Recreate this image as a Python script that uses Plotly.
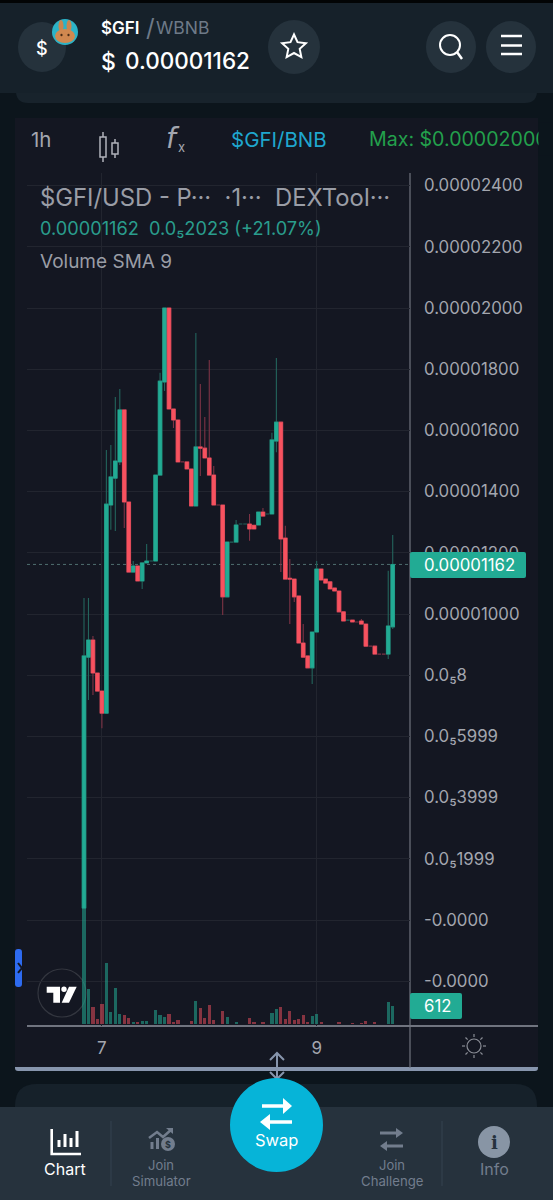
import math
import plotly.graph_objects as go

# ---------- data (prices in units of 1e-6 USD) ----------
bar_index = list(range(70))
open_ = [0.39,8.59,9.15,8.07,7.48,6.76,13.56,14.44,14.97,16.67,13.66,11.37,11.57,11.08,11.67,11.73,11.73,14.54,17.58,20.0,16.70,16.34,14.97,14.97,14.74,13.53,15.46,15.42,15.10,14.54,13.56,13.56,10.56,12.35,12.35,12.94,12.94,12.94,12.90,12.91,13.33,13.27,13.27,15.65,16.27,12.48,11.17,11.14,10.59,9.05,8.63,8.24,9.41,11.47,11.14,11.05,10.85,10.75,10.07,9.80,9.80,9.74,9.77,9.67,8.95,8.95,8.69,8.69,8.69,9.58]
close = [8.63,9.15,8.07,7.48,6.76,13.59,14.48,15.00,16.67,13.66,11.37,11.57,11.08,11.67,11.73,11.73,14.54,17.61,20.0,16.70,16.34,14.97,14.97,14.74,13.53,15.46,15.42,15.10,14.54,13.56,13.56,10.56,12.35,12.35,12.91,12.94,12.94,12.78,12.78,13.33,13.20,13.27,15.69,16.27,12.45,11.14,11.14,10.56,9.05,8.59,8.24,9.41,11.47,11.11,11.01,10.82,10.75,10.07,9.77,9.80,9.74,9.74,9.67,8.95,8.95,8.69,8.69,8.69,9.61,11.62]
high = [10.52,10.52,9.28,8.07,7.48,15.36,15.52,17.09,17.35,16.67,13.66,11.73,11.57,11.67,12.29,11.73,14.54,17.88,20.0,20.0,16.70,16.34,14.97,14.97,14.74,19.18,17.52,16.44,18.30,14.84,13.56,13.56,12.35,12.35,13.07,12.94,12.94,13.27,12.90,13.33,13.46,13.27,15.92,18.37,16.27,12.88,11.80,11.14,10.59,9.67,8.63,9.41,11.73,11.47,11.14,11.05,10.85,10.75,10.07,9.80,9.80,9.74,9.84,9.67,8.95,8.95,8.69,8.69,11.41,12.58]
low = [0.39,7.19,7.35,7.48,6.27,6.76,12.75,12.71,14.87,12.81,11.37,11.37,11.08,10.82,11.67,11.73,11.73,14.54,17.29,16.70,16.08,14.97,14.97,14.74,13.53,13.53,14.51,15.10,14.54,13.56,13.56,9.97,10.56,12.35,12.35,12.94,12.94,12.39,12.78,12.91,13.20,13.27,13.27,15.29,11.37,11.14,9.67,10.39,9.05,8.59,8.24,7.71,9.41,11.11,11.01,10.82,10.75,10.07,9.77,9.80,9.74,9.74,9.67,8.95,8.95,8.69,8.69,8.69,8.53,9.51]
volume = [3830,1155,583,176,671,2013,418,1188,341,308,209,77,66,110,110,22,462,308,231,341,66,132,11,11,110,770,539,209,649,132,11,440,231,11,66,11,11,220,77,11,66,11,363,506,572,187,440,132,187,297,88,286,341,66,22,11,11,88,22,11,33,11,33,121,11,66,22,11,737,612]

price_ticks = [24,22,20,18,16,14,12,10,8,6,4,2,0,-2]
price_labels = ["0.00002400","0.00002200","0.00002000","0.00001800","0.00001600","0.00001400","0.00001200","0.00001000","0.0₅8","0.0₅5999","0.0₅3999","0.0₅1999","-0.0000","-0.0000"]
date_ticks = [4, 52]
date_labels = ["7", "9"]
last_price = 11.62

# ---------- style ----------
W, H = 553, 1200
PAGE = "#0c151c"; PANEL = "#141722"; CARD = "#16212a"; NAV = "#26323d"; CHIP = "#25323c"
UP = "#22ab94"; DOWN = "#f7525f"; UP_DIM = "#23645c"; DOWN_DIM = "#7d3345"
GRID = "#22252f"; LINE = "#70747f"; TXT = "#a3a6af"; NAVTXT = "#727d8d"
FONT = "Inter"

def px(x): return x / W
def py(y): return 1 - y / H
def pt(x, y): return f"{px(x):.5f} {py(y):.5f}"

shapes, annos = [], []
def rect(x0, y0, x1, y1, color, layer="below"):
    shapes.append(dict(type="rect", xref="paper", yref="paper", x0=px(x0), x1=px(x1), y0=py(y0), y1=py(y1),
                       fillcolor=color, line=dict(width=0), layer=layer))
def rrect(x0, y0, x1, y1, r, color, layer="below"):
    d = (f"M {pt(x0+r,y0)} L {pt(x1-r,y0)} Q {pt(x1,y0)} {pt(x1,y0+r)} L {pt(x1,y1-r)} Q {pt(x1,y1)} {pt(x1-r,y1)} "
         f"L {pt(x0+r,y1)} Q {pt(x0,y1)} {pt(x0,y1-r)} L {pt(x0,y0+r)} Q {pt(x0,y0)} {pt(x0+r,y0)} Z")
    shapes.append(dict(type="path", xref="paper", yref="paper", path=d, fillcolor=color, line=dict(width=0), layer=layer))
def ell(cx, cy, rx, ry, fill=None, stroke=None, w=0, layer="below"):
    shapes.append(dict(type="circle", xref="paper", yref="paper", x0=px(cx-rx), x1=px(cx+rx), y0=py(cy+ry), y1=py(cy-ry),
                       fillcolor=fill or "rgba(0,0,0,0)", line=dict(width=w, color=stroke or "rgba(0,0,0,0)"), layer=layer))
def poly(pts, fill=None, stroke=None, w=0, closed=True, layer="below"):
    d = "M " + " L ".join(pt(*p) for p in pts) + (" Z" if closed else "")
    shapes.append(dict(type="path", xref="paper", yref="paper", path=d, fillcolor=fill or "rgba(0,0,0,0)",
                       line=dict(width=w, color=stroke or "rgba(0,0,0,0)"), layer=layer))
def seg(x0, y0, x1, y1, color, w=1, layer="below"):
    poly([(x0, y0), (x1, y1)], stroke=color, w=w, closed=False, layer=layer)
def T(x, y, text, size, color, anchor="left", font=FONT, weight=None):
    f = dict(family=font, size=size, color=color)
    if weight: f["weight"] = weight
    annos.append(dict(xref="paper", yref="paper", x=px(x), y=py(y), text=text, showarrow=False, xanchor=anchor,
                      yanchor="middle", borderpad=0, borderwidth=0, font=f))

# ---------- page chrome ----------
rect(0, 0, W, 3, "#020405")
rrect(16, 70, 537, 103, 12, "#18232c")
rect(0, 3, W, 93, CARD)
rect(15, 118, 538, 1070, PANEL)
rrect(15, 1060, 538, 1071, 3, "#8795ad")
rect(15, 1060, 538, 1067, PANEL)
rrect(15, 1084, 537, 1140, 22, CARD)
rect(0, 1107, W, H, NAV)

# header
ell(42, 47, 24, 25, CHIP)
T(42, 48, "$", 18, "#ffffff", "center", weight=500)
ell(65, 32, 13, 13, "#2cb3c7")
ell(61, 26, 2.5, 6, "#c9854e"); ell(69, 26, 2.5, 6, "#c9854e")
ell(65, 36, 10, 7, "#d1884f")
ell(61.5, 35, 1.1, 1.3, "#4a2c16"); ell(68.5, 35, 1.1, 1.3, "#4a2c16")
T(101, 28, "$GFI", 17, "#ffffff", weight=600)
T(146, 28, "/", 24, "#6e7a88")
T(156, 28, "WBNB", 17.5, "#6e7a88")
T(101, 62, "$", 23, "#ffffff", weight=500)
T(125, 61, "0.00001162", 22.5, "#ffffff", weight=500)
ell(294, 47, 26, 27, CHIP)
star = []
for k in range(10):
    r_ = 12.5 if k % 2 == 0 else 6
    a = -math.pi / 2 + k * math.pi / 5
    star.append((294 + r_ * math.cos(a), 47 + r_ * math.sin(a)))
poly(star, stroke="#ffffff", w=2)
ell(451, 47, 25, 26, CHIP)
ell(450, 45, 10, 10, None, "#ffffff", 2)
seg(457, 52, 462, 59, "#ffffff", 2.5)
ell(511, 47, 25, 26, CHIP)
for yy in (36, 45.5, 54):
    seg(501, yy, 522, yy, "#ffffff", 2.5)

# toolbar
T(31, 139, "1h", 20.5, TXT)
seg(103, 132, 103, 162, "#b0b3bb", 1.5)
poly([(100, 137), (106, 137), (106, 157), (100, 157)], fill=PANEL, stroke="#b0b3bb", w=1.5)
seg(115, 139, 115, 158, "#b0b3bb", 1.5)
poly([(112, 143), (118, 143), (118, 154), (112, 154)], fill=PANEL, stroke="#b0b3bb", w=1.5)
T(173, 138, "<i>f</i>", 28, TXT, "center", "DejaVu Sans")
T(181, 147, "x", 13, TXT, "center")
T(231, 139, "$GFI/BNB", 20.5, "#1fa7cf")
T(369, 139, "Max: $0.00002000", 19.6, "#23a04c")
annos.append(dict(xref="paper", yref="paper", x=px(538), y=py(139), text=" ", showarrow=False, xanchor="left", yanchor="middle",
                  width=15, height=32, bgcolor=PAGE, borderpad=0))

# chart legend text
T(40, 197, "$GFI/USD - P···  ·1···  DEXTool···", 23.8, "#9a9da6")
T(40, 228, "0.00001162  0.0₅2023 (+21.07%)", 18.2, "#2a9d8d")
T(40, 261, "Volume SMA 9", 19, "#9a9da6")

# chart frame
seg(410, 173, 410, 1068, LINE, 1.2)
seg(27, 1026, 538, 1026, LINE, 2)

# tab + TradingView logo
rrect(15, 949, 22, 987, 3, "#2e6bf0")
poly([(18, 963), (22, 968), (18, 973)], stroke=PANEL, w=2, closed=False)
ell(62, 993, 24, 24, PANEL, "#33363f", 1.2)
poly([(46.7,986.7),(60,986.7),(60,1002.7),(53.3,1002.7),(53.3,992.7),(46.7,992.7)], fill="#ffffff")
ell(64, 989.3, 2.7, 2.7, "#ffffff")
poly([(76.7,986.7),(69,1002.7),(61.7,1002.7),(69,986.7)], fill="#ffffff")

# sun
ell(474, 1046, 7, 7, None, "#8a8d96", 1.2)
for k in range(8):
    a = k * math.pi / 4
    seg(474 + 9 * math.cos(a), 1046 + 9 * math.sin(a), 474 + 12 * math.cos(a), 1046 + 12 * math.sin(a), "#8a8d96", 1.2)

# price and volume badges
rrect(410, 552, 526, 578, 2, UP, "above")
T(424, 565, "0.00001162", 16.8, "#ffffff")
rrect(410, 993, 462, 1019, 2, UP, "above")
T(424, 1006, "612", 16.8, "#ffffff")

# resize arrows
seg(277, 1053, 277, 1079, "#8795ad", 2)
poly([(270, 1060), (277, 1053), (284, 1060)], stroke="#8795ad", w=2, closed=False)
poly([(270, 1072), (277, 1079), (284, 1072)], stroke="#8795ad", w=2, closed=False)

# nav separators
seg(111, 1121, 111, 1186, "#354250", 1); seg(442, 1121, 442, 1186, "#354250", 1)

# swap
ell(276.5, 1125, 46.5, 47, "#06b4d8")
seg(262, 1106, 284, 1106, "#ffffff", 3.5)
poly([(283, 1098), (292, 1106), (283, 1114)], fill="#ffffff")
seg(269, 1122, 292, 1122, "#ffffff", 3.5)
poly([(270, 1114), (260, 1122), (270, 1130)], fill="#ffffff")
T(276.5, 1140, "Swap", 16.5, "#ffffff", "center")

# chart nav icon
poly([(51.7, 1129), (51.7, 1154), (81, 1154)], stroke="#ffffff", w=2.6, closed=False)
for xx, top in ((59, 1140), (65, 1134), (71, 1138), (77, 1131)):
    seg(xx, top, xx, 1147, "#ffffff", 3)
T(65, 1169, "Chart", 16, "#ffffff", "center")

# simulator icon
poly([(149, 1138), (157, 1132), (163, 1137), (172, 1129)], stroke=NAVTXT, w=2.5, closed=False)
poly([(166, 1128), (173, 1128), (173, 1134)], fill=NAVTXT)
seg(152, 1142, 152, 1149, NAVTXT, 3); seg(157.5, 1138, 157.5, 1149, NAVTXT, 3)
ell(168, 1144, 7, 7, NAVTXT)
T(168, 1144, "<b>$</b>", 9, NAV, "center")
T(161, 1164.5, "Join", 13, NAVTXT, "center")
T(161, 1180.5, "Simulator", 13.2, NAVTXT, "center")

# challenge icon
seg(380, 1133, 398, 1133, NAVTXT, 3)
poly([(396, 1128), (403, 1133), (396, 1138)], fill=NAVTXT)
seg(385, 1146, 403, 1146, NAVTXT, 3)
poly([(387, 1141), (380, 1146), (387, 1151)], fill=NAVTXT)
T(392, 1164.5, "Join", 13, NAVTXT, "center")
T(392, 1180.5, "Challenge", 13.2, NAVTXT, "center")

# info
ell(494, 1142, 16, 16, "#8895a5")
T(494, 1142, "<b>i</b>", 18, NAV, "center", "DejaVu Serif")
T(494, 1169, "Info", 16, NAVTXT, "center")

# ---------- traces ----------
body_open = [o if abs(o - c) > 0.02 else None for o, c in zip(open_, close)]
body_close = [c if abs(o - c) > 0.02 else None for o, c in zip(open_, close)]
body_high = [max(o, c) if abs(o - c) > 0.02 else None for o, c in zip(open_, close)]
body_low = [min(o, c) if abs(o - c) > 0.02 else None for o, c in zip(open_, close)]
vol_colors = ["rgba(34,171,148,0.55)" if c >= o else "rgba(247,82,95,0.5)" for o, c in zip(open_, close)]

fig = go.Figure()
fig.add_trace(go.Bar(x=bar_index, y=volume, marker=dict(color=vol_colors, line=dict(width=0)), width=0.72, yaxis="y2", name="Volume"))
fig.add_trace(go.Candlestick(x=bar_index, open=open_, high=high, low=low, close=close, name="wicks",
                             increasing=dict(line=dict(color=UP_DIM, width=1.1), fillcolor=UP_DIM),
                             decreasing=dict(line=dict(color=DOWN_DIM, width=1.1), fillcolor=DOWN_DIM), whiskerwidth=0))
fig.add_trace(go.Candlestick(x=bar_index, open=body_open, high=body_high, low=body_low, close=body_close, name="bodies",
                             increasing=dict(line=dict(color=UP, width=0.6), fillcolor=UP),
                             decreasing=dict(line=dict(color=DOWN, width=0.6), fillcolor=DOWN), whiskerwidth=0))

shapes.append(dict(type="line", xref="x domain", yref="y", x0=0, x1=1, y0=last_price, y1=last_price,
                   line=dict(color="#4f6f70", width=1, dash="dot"), layer="below"))

x_lo = (27 - 84) / 4.474
x_hi = (410 - 84) / 4.474
y_hi = (920 - 173) / 30.6
y_lo = (920 - 1026) / 30.6
fig.update_layout(
    width=W, height=H, margin=dict(l=0, r=0, t=0, b=0), autosize=False,
    paper_bgcolor=PAGE, plot_bgcolor="rgba(0,0,0,0)", showlegend=False, hovermode=False,
    boxgap=0.1, boxgroupgap=0.1, bargap=0,
    font=dict(family=FONT, color=TXT),
    xaxis=dict(domain=[px(27), px(410)], range=[x_lo, x_hi], rangeslider=dict(visible=False),
               tickmode="array", tickvals=date_ticks, ticktext=date_labels, showgrid=True, gridcolor=GRID, gridwidth=1,
               zeroline=False, showline=False, ticks="", ticklabelstandoff=10, tickfont=dict(size=17, color=TXT, family=FONT)),
    yaxis=dict(domain=[py(1026), py(173)], range=[y_lo, y_hi], side="right", tickmode="array", tickvals=price_ticks,
               ticktext=price_labels, showgrid=True, gridcolor=GRID, gridwidth=1, zeroline=False, showline=False, ticks="",
               ticklabelstandoff=13, tickfont=dict(size=16.8, color=TXT, family=FONT)),
    yaxis2=dict(domain=[py(1026), py(173)], overlaying="y", side="left", range=[-50, 28100], visible=False),
    shapes=shapes, annotations=annos,
)
fig.write_html("out.html", config=dict(displayModeBar=False),
               post_script="document.body.style.margin='0';document.body.style.background='%s';" % PAGE)
